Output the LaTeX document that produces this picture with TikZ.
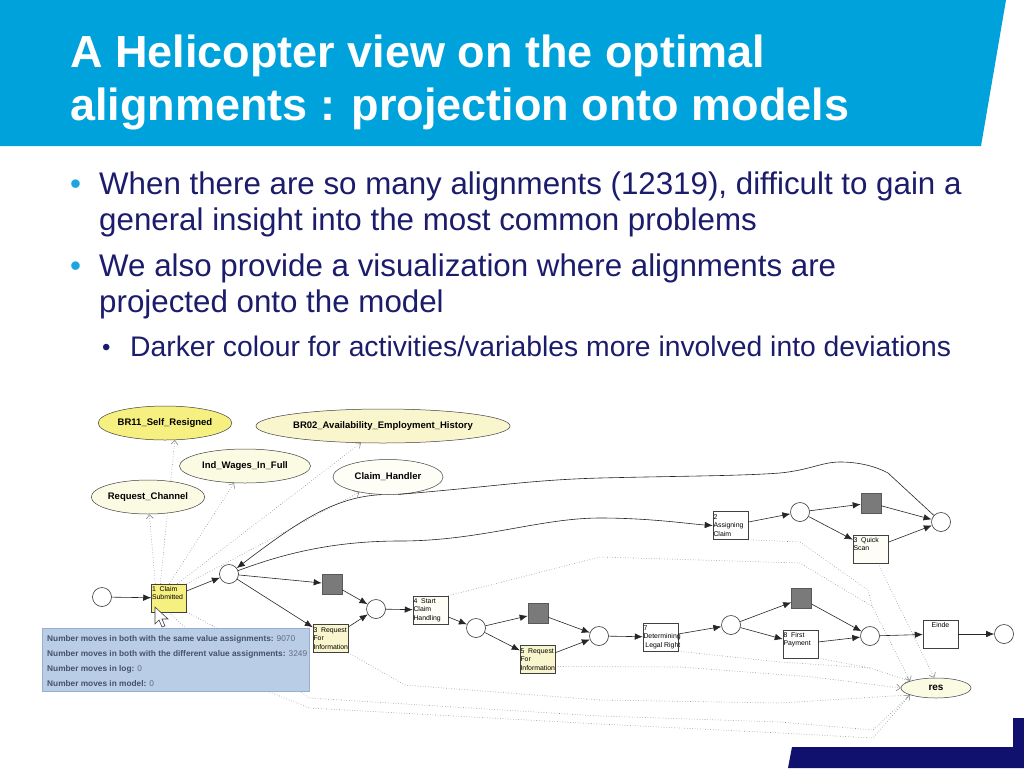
\documentclass[tikz,border=0pt]{standalone}
\usepackage{fontspec}
\setmainfont{Liberation Sans}
\usetikzlibrary{arrows.meta,shapes.geometric}
\definecolor{hdrblue}{RGB}{0,162,219}
\definecolor{navytext}{RGB}{28,28,108}
\definecolor{bulletblue}{RGB}{30,165,225}
\definecolor{footnavy}{RGB}{16,16,110}
\definecolor{yel}{RGB}{246,240,128}
\definecolor{lyel}{RGB}{249,246,206}
\definecolor{llyel}{RGB}{251,250,226}
\definecolor{wyel}{RGB}{254,254,246}
\definecolor{tipblue}{RGB}{186,205,230}
\definecolor{tipedge}{RGB}{150,175,210}
\definecolor{tiptext}{RGB}{68,82,104}
\definecolor{tipnum}{RGB}{95,108,130}
\definecolor{gsqc}{RGB}{122,122,122}
\pgfdeclarelayer{base}
\pgfdeclarelayer{bg}
\pgfdeclarelayer{fg}
\pgfsetlayers{base,bg,main,fg}
\newcommand{\tl}{\rule{0pt}{6.8pt}}
\begin{document}
\begin{tikzpicture}[x=1pt,y=-1pt,
  ttl/.style={anchor=base west,inner sep=0pt,text=white,font=\fontsize{45}{54}\selectfont\bfseries},
  btxt/.style={anchor=base west,inner sep=0pt,text=navytext,font=\fontsize{31.3}{37}\selectfont},
  stxt/.style={anchor=base west,inner sep=0pt,text=navytext,font=\fontsize{28.3}{34}\selectfont},
  var/.style={ellipse,draw=black!75,line width=0.5pt,inner sep=0pt,font=\fontsize{9.5}{11}\selectfont\bfseries},
  place/.style={circle,draw=black!80,fill=white,line width=0.6pt,minimum size=19pt,inner sep=0pt},
  tr/.style={draw=black!75,line width=0.5pt,minimum width=35pt,minimum height=28pt,inner sep=0pt,font=\fontsize{6.9}{8.4}\selectfont},
  gsq/.style={draw=black!65,fill=gsqc,line width=0.6pt,minimum size=20pt,inner sep=0pt},
  arc/.style={draw=black!85,line width=0.6pt,-{Latex[length=8pt,width=6.5pt]}},
  plainarc/.style={draw=black!85,line width=0.6pt},
  dep/.style={draw=black!45,dotted,line width=0.6pt,-{Straight Barb[length=4pt,width=7pt]}},
  depn/.style={draw=black!45,dotted,line width=0.6pt},
  tip/.style={anchor=base west,inner sep=0pt,text=tiptext,font=\fontsize{8.3}{10}\selectfont\bfseries}
]
\useasboundingbox (0,0) rectangle (1024,768);
\begin{pgfonlayer}{base}
\fill[white] (0,0) rectangle (1024,768);
\end{pgfonlayer}
% header
\fill[hdrblue] (0,0) -- (1006,0) -- (981,146) -- (0,146) -- cycle;
\node[ttl] (title1) at (70,67) {A Helicopter view on the optimal};
\node[ttl] (title2) at (70,120) {alignments : projection onto models};
% bullets
\node[btxt,text=bulletblue] (b1) at (70,194) {•};
\node[btxt] (l1) at (99,194) {When there are so many alignments (12319), difficult to gain a};
\node[btxt] (l2) at (99,230) {general insight into the most common problems};
\node[btxt,text=bulletblue] (b2) at (70,276) {•};
\node[btxt] (l3) at (99,276) {We also provide a visualization where alignments are};
\node[btxt] (l4) at (99,312) {projected onto the model};
\node[stxt,font=\fontsize{24}{30}\selectfont] (b3) at (102,355) {•};
\node[stxt] (l5) at (130,356) {Darker colour for activities/variables more involved into deviations};
% footer
\fill[footnavy] (788,768) -- (792,747) -- (1013,747) -- (1013,718) -- (1024,718) -- (1024,768) -- cycle;

% variables
\node[var,fill=yel,minimum width=130pt,minimum height=34pt] (BR11) at (165,423) {BR11\_Self\_Resigned};
\node[var,fill=lyel,minimum width=230pt,minimum height=34pt] (BR02) at (383,426) {BR02\_Availability\_Employment\_History};
\node[var,fill=llyel,minimum width=131pt,minimum height=34pt] (IndW) at (245,466) {Ind\_Wages\_In\_Full};
\node[var,fill=wyel,minimum width=110pt,minimum height=35pt] (CH) at (388,477) {Claim\_Handler};
\node[var,fill=llyel,minimum width=110pt,minimum height=34pt] (RC) at (148,497) {Request\_Channel};
\node[var,fill=llyel,minimum width=70pt,minimum height=20pt,font=\fontsize{10}{12}\selectfont\bfseries] (res) at (936,688) {res};

% places
\node[place] (p0) at (102,597) {};
\node[place] (p1) at (229,574) {};
\node[place] (p2) at (376,609) {};
\node[place] (p3) at (476,628) {};
\node[place] (p4) at (599,636) {};
\node[place] (p5) at (731,625) {};
\node[place] (p6) at (800,512) {};
\node[place] (p7) at (941,522) {};
\node[place] (p8) at (870,636) {};
\node[place] (p9) at (1004,634) {};

% transitions
\node[tr,fill=yel] (t1) at (169,598) {\parbox[c][27pt][t]{34pt}{\raggedright\tl 1\ \ Claim\\Submitted}};
\node[tr,fill=lyel] (t3a) at (330.5,638.5) {\parbox[c][26pt][t]{34pt}{\raggedright\tl 3\ \ Request\\For\\Information}};
\node[tr,fill=wyel] (t4) at (430.5,610) {\parbox[c][27pt][t]{34pt}{\raggedright\tl 4\ \ Start\\Claim\\Handling}};
\node[tr,fill=lyel] (t5) at (537.5,659.5) {\parbox[c][26pt][t]{34pt}{\raggedright\tl 5\ \ Request\\For\\Information}};
\node[tr,fill=white] (t7) at (660.5,637) {\parbox[c][27pt][t]{34pt}{\raggedright\tl 7\\\mbox{Determining}\\\mbox{\ Legal Right}}};
\node[tr,fill=white] (t8) at (800.5,644) {\parbox[c][27pt][t]{34pt}{\raggedright\tl 8\ \ First\\Payment}};
\node[tr,fill=white] (tE) at (940.5,634) {\parbox[c][27pt][t]{34pt}{\centering\tl Einde}};
\node[tr,fill=white] (t2) at (730.5,525.5) {\parbox[c][26pt][t]{34pt}{\raggedright\tl 2\\Assigning\\Claim}};
\node[tr,fill=wyel] (t3q) at (870.5,549) {\parbox[c][27pt][t]{34pt}{\raggedright\tl 3\ \ Quick\\Scan}};
\node[gsq] (g1) at (332,584) {};
\node[gsq] (g2) at (538,613.5) {};
\node[gsq] (g3) at (801.5,598.5) {};
\node[gsq] (g4) at (871,503) {};

% solid arcs
\draw[arc] (p0) -- (t1);
\draw[arc] (t1) -- (p1);
\draw[arc] (p1) -- (g1);
\draw[arc] (p1) -- (t3a);
\draw[arc] (g1) -- (p2);
\draw[arc] (t3a) -- (p2);
\draw[arc] (p2) -- (t4);
\draw[arc] (t4) -- (p3);
\draw[arc] (p3) -- (g2);
\draw[arc] (p3) -- (t5);
\draw[arc] (g2) -- (p4);
\draw[arc] (t5) -- (p4);
\draw[arc] (p4) -- (t7);
\draw[arc] (t7) -- (p5);
\draw[arc] (p5) -- (g3);
\draw[arc] (p5) -- (t8);
\draw[arc] (g3) -- (p8);
\draw[arc] (t8) -- (p8);
\draw[arc] (p8) -- (tE);
\draw[arc] (tE) -- (p9);
\draw[arc] (t2) -- (p6);
\draw[arc] (p6) -- (g4);
\draw[arc] (p6) -- (t3q);
\draw[arc] (g4) -- (p7);
\draw[arc] (t3q) -- (p7);
\draw[arc] (p1) .. controls (280,555) and (330,541) .. (400,541)
  .. controls (480,541) and (540,518) .. (600,518)
  .. controls (650,518) and (690,524) .. (t2.west);
\draw[arc] (CH.250) .. controls (335,497) and (300,520) .. (p1);
\draw[plainarc] (CH.300) .. controls (500,486) and (530,480) .. (600,478)
  .. controls (680,476) and (740,476) .. (780,473)
  .. controls (810,470) and (822,462) .. (840,462)
  .. controls (858,462) and (875,466) .. (888,473) -- (p7);

% dotted dependencies
\begin{pgfonlayer}{bg}
\draw[dep] ([xshift=4pt]t1.north west) -- (RC);
\draw[dep] ([xshift=9pt]t1.north west) -- (BR11.-60);
\draw[dep] ([xshift=18pt]t1.north west) -- (IndW);
\draw[dep] ([xshift=26pt]t1.north west) -- (BR02);
\draw[dep] (t1.north east) -- (CH);
\draw[dep] (t4.north east) -- (600,557) -- (800,563) -- (845,590) -- (872,606) -- (res.165);
\draw[depn] (t2.south east) -- (800,542) -- (868,590) -- (872,606);
\draw[dep] ([xshift=8pt]t3q.south) -- (886,580) -- (res.100);
\draw[dep] (t7.south east) -- (780,662) -- (870,668) -- (res.165);
\draw[depn] (t8.south east) -- (870,668);
\draw[dep] ([yshift=-7pt]t5.east) -- (680,667) -- (813,677) -- (res.180);
\draw[dep] (t3a.south east) -- (405,685) -- (600,700) -- (780,703) -- (res.195);
\draw[dep] (t1.south east) -- (217,628) -- (309,698) -- (600,716) -- (780,722) -- (873,730) -- (res.195);
\draw[depn] (t1.south) -- (240,680) -- (309,708) -- (600,724) -- (780,733) -- (873,738) -- (res.195);
\end{pgfonlayer}

% tooltip and cursor
\begin{pgfonlayer}{fg}
\fill[tipblue,draw=tipedge,line width=0.6pt] (42,628) rectangle (309,691);
\node[tip] (tip1) at (47,641) {Number moves in both with the same value assignments: \textcolor{tipnum}{\mdseries 9070}};
\node[tip] (tip2) at (47,656.5) {Number moves in both with the different value assignments: \textcolor{tipnum}{\mdseries 3249}};
\node[tip] (tip3) at (47,671.5) {Number moves in log: \textcolor{tipnum}{\mdseries 0}};
\node[tip] (tip4) at (47,686.5) {Number moves in model: \textcolor{tipnum}{\mdseries 0}};
\filldraw[fill=white,draw=black!75,line width=0.6pt] (155,607) -- (155,624) -- (159,620) -- (162,627) -- (165,626) -- (162,619) -- (168,619) -- cycle;
\end{pgfonlayer}
\end{tikzpicture}
\end{document}
